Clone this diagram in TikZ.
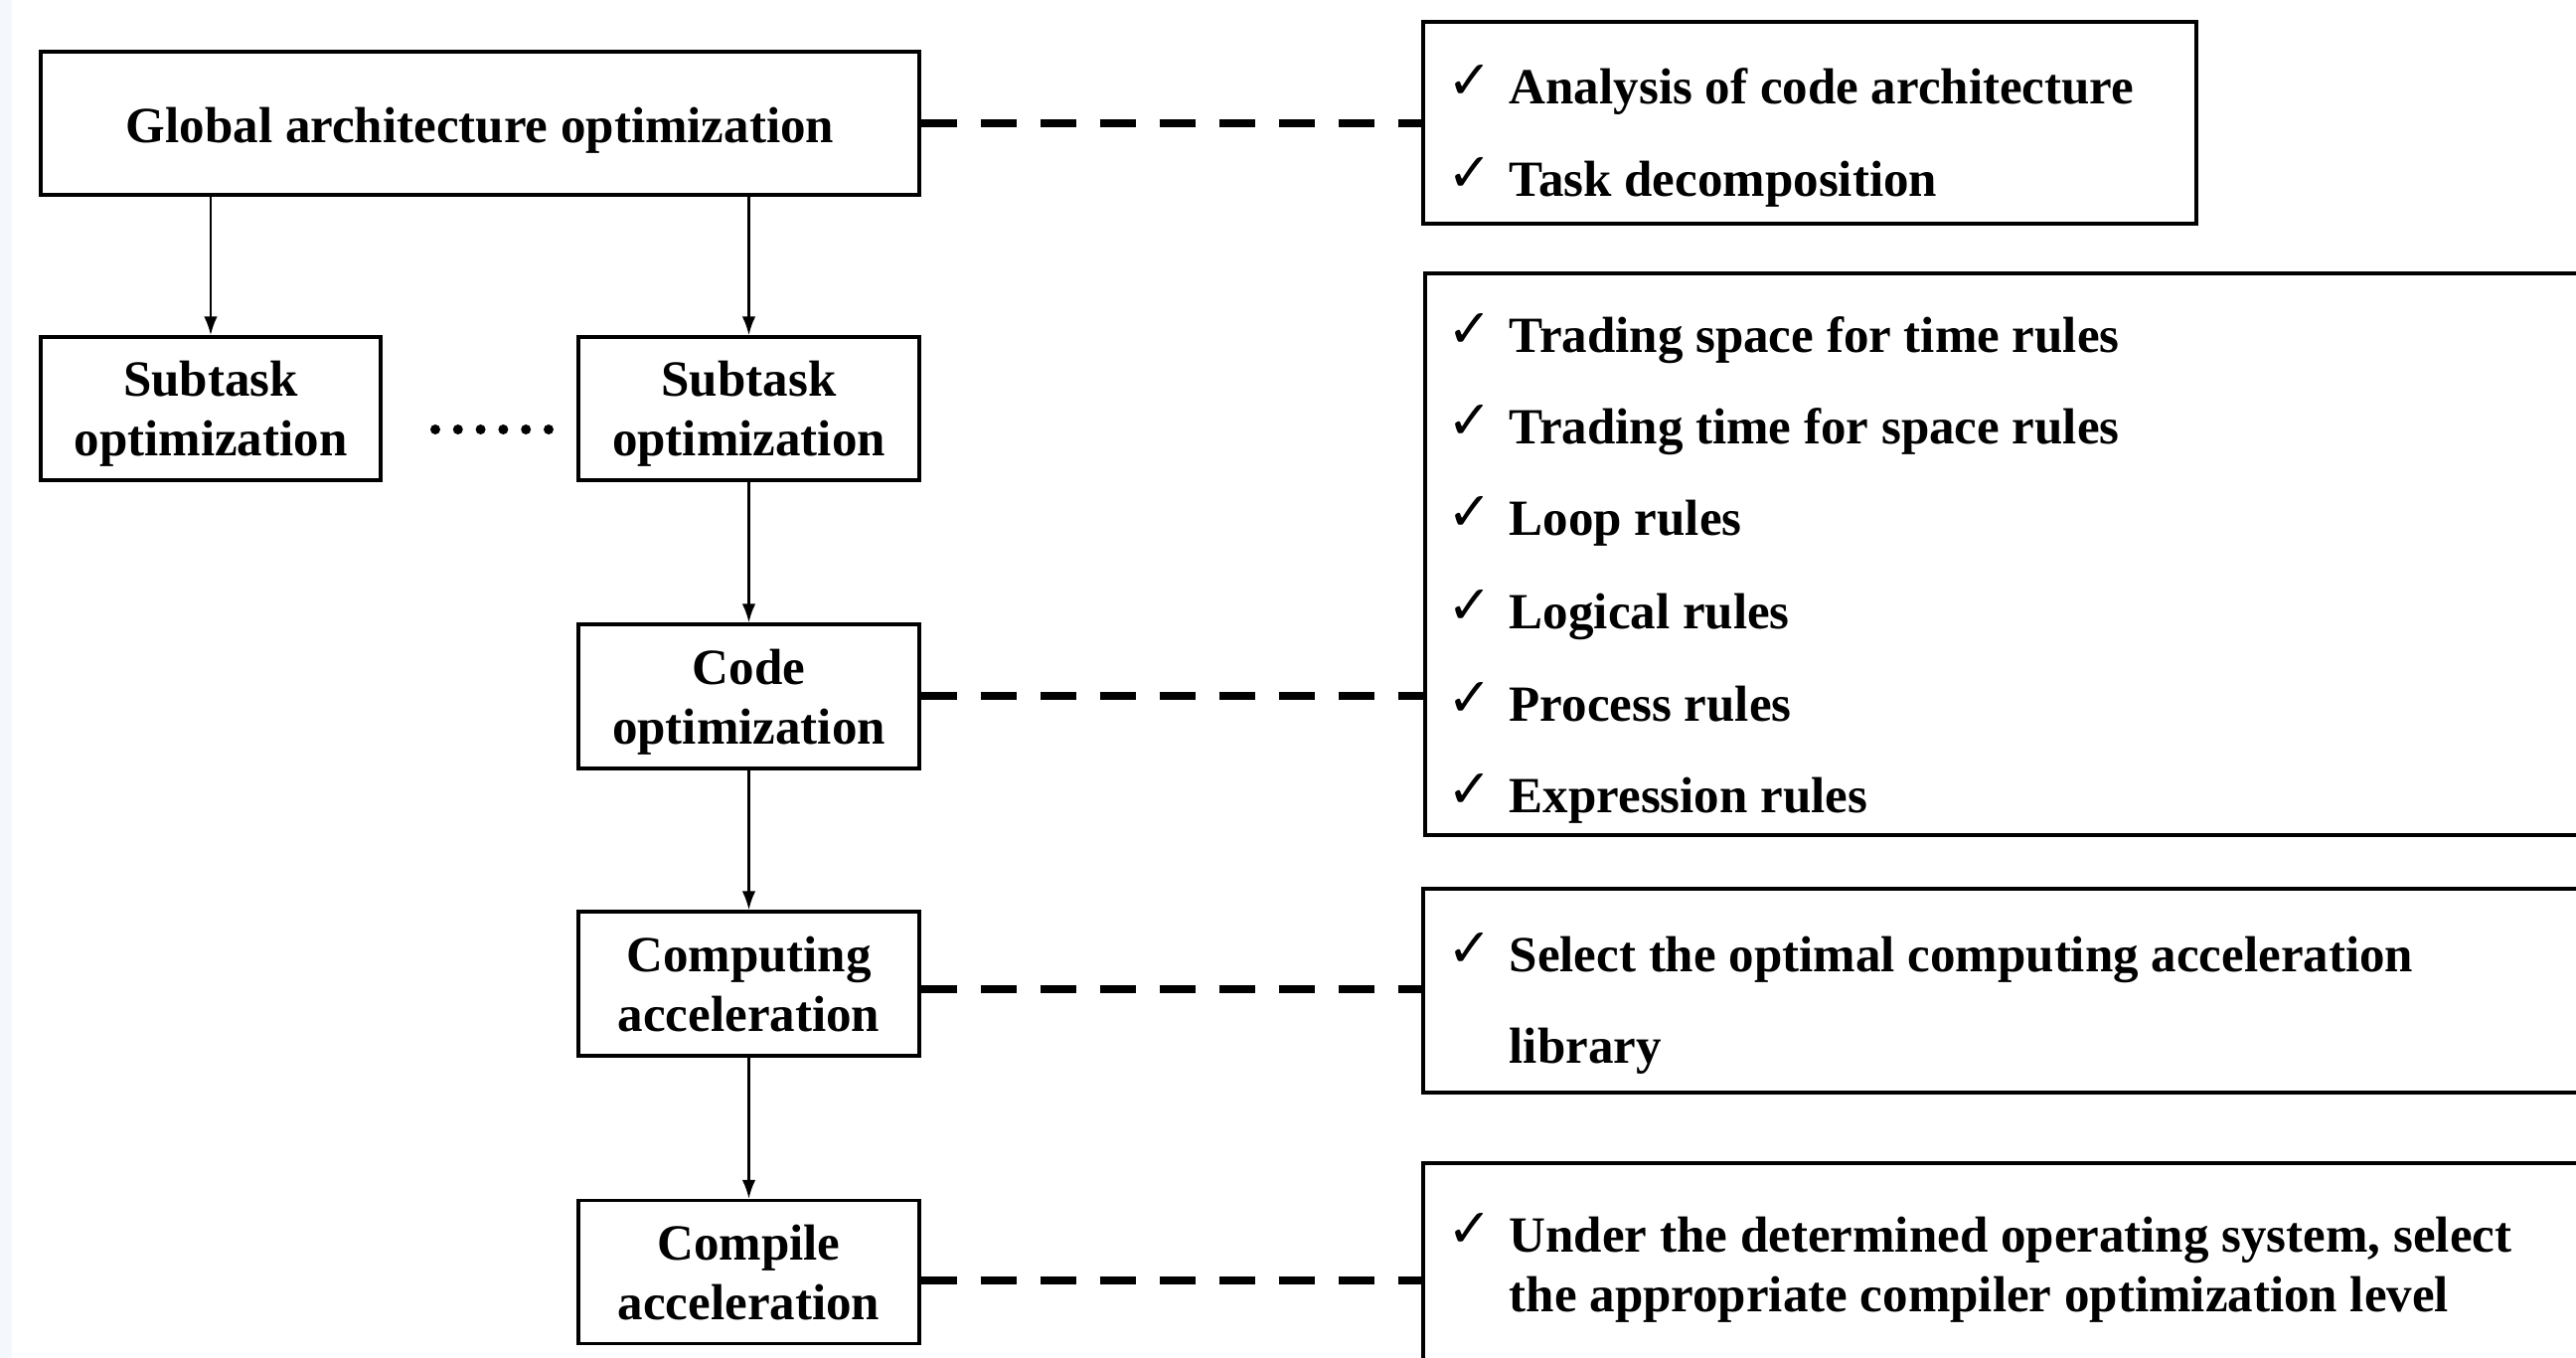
\documentclass[tikz,border=0pt]{standalone}
\usepackage{fontspec}
\setmainfont{Liberation Serif}
\newfontfamily\chkfont{DejaVu Sans}
\usetikzlibrary{arrows.meta}
\definecolor{edgeblue}{RGB}{244,248,253}
\newcommand{\lowtext}[2]{\raisebox{#1}[\height][\depth]{\begin{tabular}{@{}c@{}}#2\end{tabular}}}
\begin{document}
\begin{tikzpicture}[x=0.25pt,y=-0.25pt,
  box/.style={draw, line width=0.85pt, font=\fontsize{12.75}{15}\selectfont\bfseries, align=center, inner sep=0pt},
  infobox/.style={draw, line width=0.85pt, inner sep=0pt},
  arr/.style={-{Latex[length=4.75pt,width=3.4pt]}, line width=0.6pt},
  dashline/.style={line width=2pt, dash pattern=on 9pt off 6pt},
  item/.style={anchor=base west, inner sep=0pt, font=\fontsize{12.75}{15}\selectfont\bfseries},
  chk/.style={anchor=base west, inner sep=0pt, font=\chkfont\fontsize{13.5}{15}\selectfont}]

\useasboundingbox (0,0) rectangle (2592,1366);
\clip (0,0) rectangle (2592,1366);
\fill[edgeblue] (0,0) rectangle (12,1366);

% left column
\node[box, minimum width=221pt, minimum height=36pt] (global) at (483,124) {\lowtext{-2pt}{Global architecture optimization}};
\node[box, minimum width=85.5pt, minimum height=36pt] (sub1) at (212,411) {\lowtext{-1.4pt}{Subtask\\optimization}};
\node[box, minimum width=85.75pt, minimum height=36pt] (sub2) at (753.5,411) {\lowtext{-1.4pt}{Subtask\\optimization}};
\node[box, minimum width=85.75pt, minimum height=36.25pt] (code) at (753.5,700.5) {\lowtext{-1.5pt}{Code\\optimization}};
\node[box, minimum width=85.75pt, minimum height=36.25pt] (comp) at (753.5,989.5) {\lowtext{-1.6pt}{Computing\\acceleration}};
\node[box, minimum width=85.75pt, minimum height=36pt] (compile) at (753.5,1279.5) {\lowtext{-1.6pt}{Compile\\acceleration}};

\foreach \i in {0,...,5} \fill (438+\i*22.8,432) circle[radius=5];

\draw[arr] (global.south -| sub1.north) -- (sub1.north);
\draw[arr] (global.south -| sub2.north) -- (sub2.north);
\draw[arr] (sub2) -- (code);
\draw[arr] (code) -- (comp);
\draw[arr] (comp) -- (compile);

% right boxes
\node[infobox, minimum width=194.5pt, minimum height=50.75pt] (rb1) at (1821,123.5) {};
\node[infobox, minimum width=296.5pt, minimum height=141.25pt] (rb2) at (2027,557.5) {};
\node[infobox, minimum width=297pt, minimum height=51.25pt] (rb3) at (2026,996.5) {};
\node[infobox, minimum width=297pt, minimum height=62.5pt] (rb4) at (2026,1295) {};

\draw[dashline] (global.east) -- (global.east -| rb1.west);
\draw[dashline] (code.east) -- (code.east -| rb2.west);
\draw[dashline] ([yshift=-1.5pt]comp.east) -- ([yshift=-1.5pt]comp.east -| rb3.west);
\draw[dashline] ([yshift=-2.25pt]compile.east) -- ([yshift=-2.25pt]compile.east -| rb4.west);

% items
\node[chk] (c1) at (1456,100) {✓};
\node[item] (t1) at (1518,105) {Analysis of code architecture};
\node[chk] (c2) at (1456,193) {✓};
\node[item] (t2) at (1518,198) {Task decomposition};

\node[chk] (c3) at (1456,350) {✓};
\node[item] (t3) at (1518,355) {Trading space for time rules};
\node[chk] (c4) at (1456,442) {✓};
\node[item] (t4) at (1518,447) {Trading time for space rules};
\node[chk] (c5) at (1456,534) {✓};
\node[item] (t5) at (1518,539) {Loop rules};
\node[chk] (c6) at (1456,628) {✓};
\node[item] (t6) at (1518,633) {Logical rules};
\node[chk] (c7) at (1456,721) {✓};
\node[item] (t7) at (1518,726) {Process rules};
\node[chk] (c8) at (1456,813) {✓};
\node[item] (t8) at (1518,818) {Expression rules};

\node[chk] (c9) at (1456,973) {✓};
\node[item] (t9) at (1518,978) {Select the optimal computing acceleration};
\node[item] (t10) at (1518,1070) {library};

\node[chk] (c11) at (1456,1255) {✓};
\node[item] (t11) at (1518,1260) {Under the determined operating system, select};
\node[item] (t12) at (1518,1320) {the appropriate compiler optimization level};
\end{tikzpicture}
\end{document}
